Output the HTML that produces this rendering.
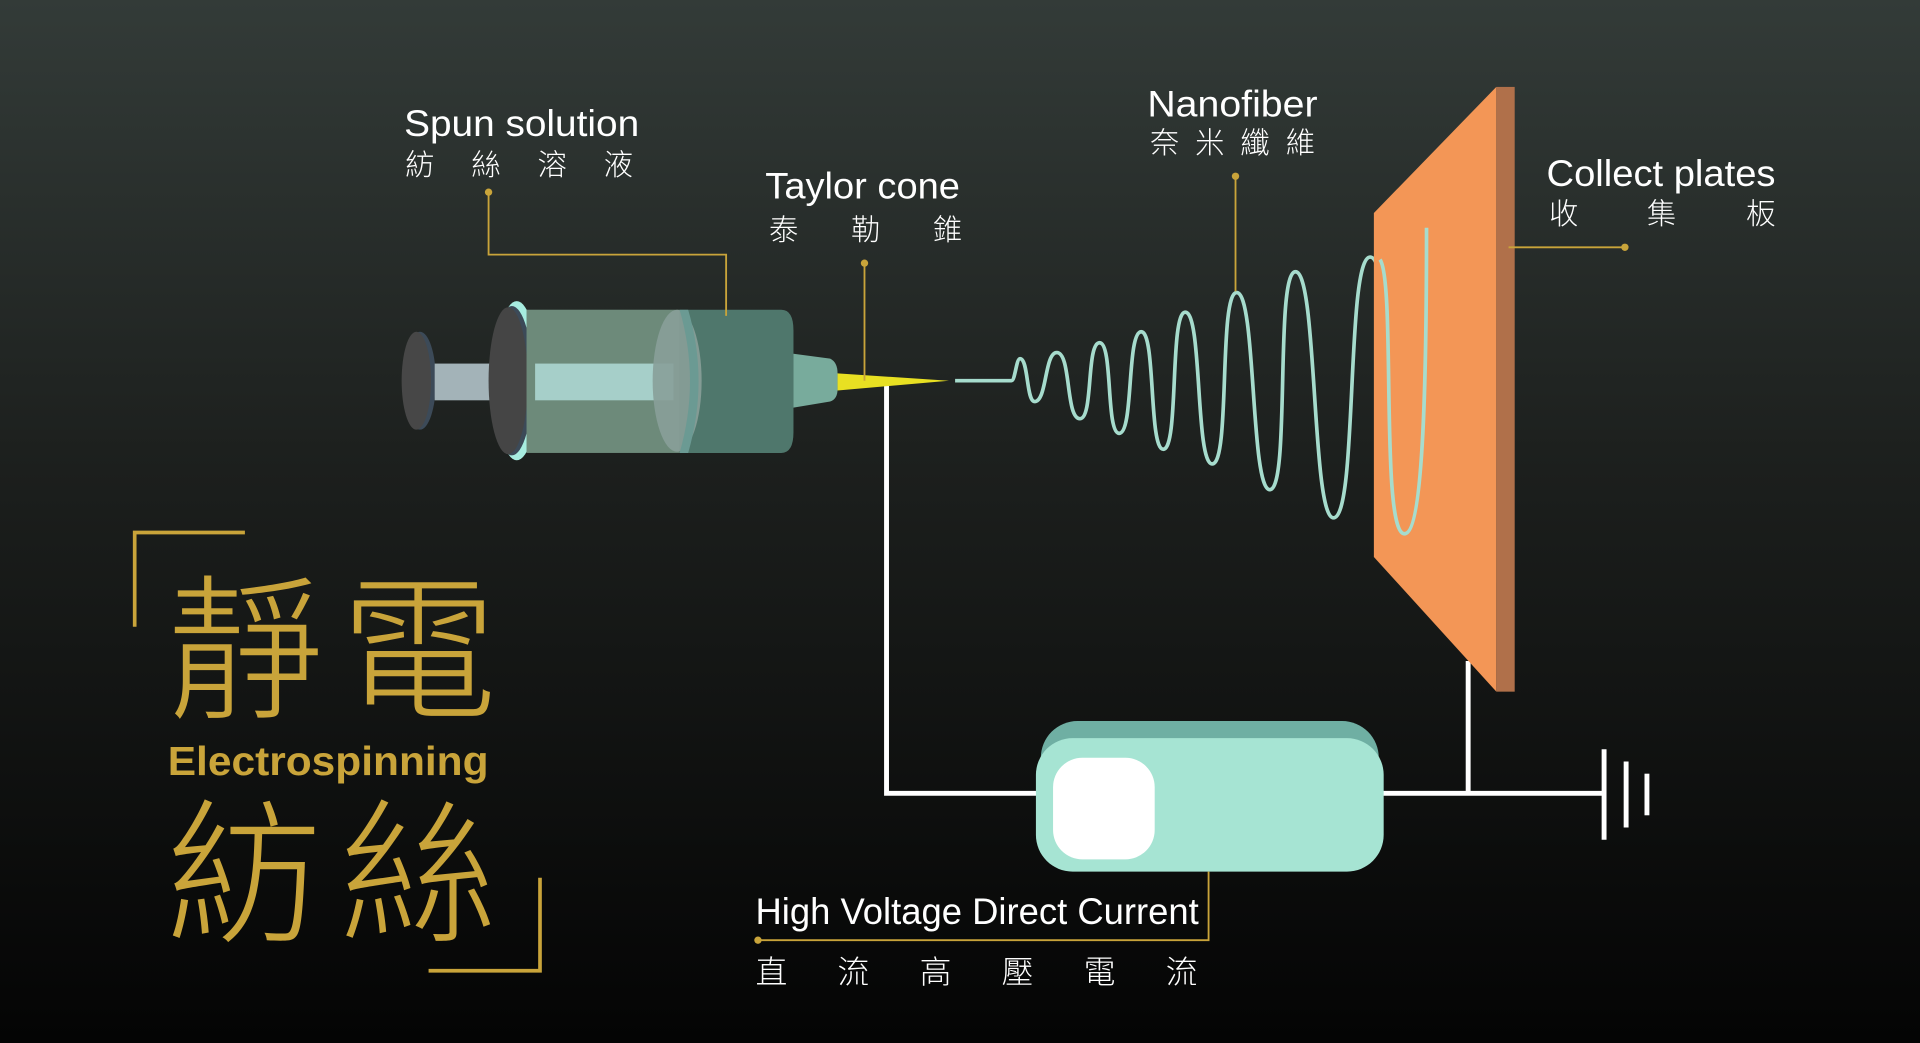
<!DOCTYPE html>
<html><head><meta charset="utf-8"><style>
html,body{margin:0;padding:0;background:#111;}
svg{display:block;}
text{font-family:"Liberation Sans","Noto Sans CJK TC",sans-serif;}
.cjk{font-family:"Noto Sans CJK TC","Noto Sans CJK SC",sans-serif;font-weight:300;}
</style></head><body>
<svg width="1920" height="1043" viewBox="0 0 1568 852" preserveAspectRatio="none" xmlns="http://www.w3.org/2000/svg">
<defs>
<linearGradient id="bg" x1="0" y1="0" x2="0" y2="1">
<stop offset="0" stop-color="#333b38"/><stop offset="0.45" stop-color="#1c1f1d"/><stop offset="1" stop-color="#040404"/>
</linearGradient>
</defs>
<rect width="1568" height="852" fill="url(#bg)"/>

<!-- circuit wires -->
<g stroke="#ffffff" stroke-width="4" fill="none">
<polyline points="724,314 724,648 860,648"/>
<line x1="1120" y1="648" x2="1310" y2="648"/>
<line x1="1199" y1="540" x2="1199" y2="648"/>
<line x1="1310" y1="612" x2="1310" y2="686"/>
<line x1="1328" y1="622" x2="1328" y2="676"/>
<line x1="1345" y1="632" x2="1345" y2="666"/>
</g>

<!-- syringe -->
<ellipse cx="343" cy="311" rx="13" ry="40" fill="#3c4a58"/>
<ellipse cx="340" cy="311" rx="12" ry="40" fill="#474747"/>
<rect x="355" y="297" width="62" height="30" fill="#a3b3b8"/>
<ellipse cx="422" cy="311" rx="18" ry="65" fill="#a7ede0"/>
<ellipse cx="418" cy="311" rx="17" ry="61" fill="#3c4a58"/>
<ellipse cx="415" cy="311" rx="16" ry="60" fill="#454545"/>
<rect x="430" y="253" width="125" height="117" fill="#6d8a7a"/>
<path d="M555,253 L638,253 Q648,253 648,270 L648,353 Q648,370 638,370 L555,370 Z" fill="#4f776c"/>
<rect x="437" y="297" width="113" height="30" fill="#a6cfc9"/>
<ellipse cx="553" cy="311" rx="20" ry="58" fill="#889f99" opacity="0.9"/>
<path d="M555,253 Q572,311 555,370 L562,370 Q579,311 562,253 Z" fill="#6b9a93"/>
<path d="M648,289 L678,293 Q684,296 684,305 L684,318 Q684,326 678,328 L648,333 Z" fill="#78ab9c"/>
<path d="M684,305 L775,311 L684,319 Z" fill="#e8e022"/>

<!-- fiber -->
<path d="M780,311 L826,311 C829,311 830,293 833,293 C840,293 838,328 845,328 C855,328 853,288 863,288 C875,288 870,342 882,342 C893,342 887,280 898,280 C909,280 903,354 914,354 C926,354 920,271 932,271 C944,271 938,367 950,367 C963,367 955,255 968,255 C982,255 976,379 990,379 C1005,379 995,239 1010,239 C1026,239 1021,400 1037,400 C1054,400 1041,222 1058,222 C1076,222 1071,423 1089,423 C1109,423 1099,210 1119,210 C1140,210 1127,436 1147,436 C1163,436 1165,300 1165,186" fill="none" stroke="#a6dccd" stroke-width="3"/>

<!-- collect plate -->
<polygon points="1222,71 1122,174 1122,455 1222,565" fill="#f39656"/>
<rect x="1222" y="71" width="15" height="494" fill="#b0704a"/>
<path d="M1127,212 C1140,230 1127,436 1147,436 C1163,436 1165,300 1165,186" fill="none" stroke="#a6dccd" stroke-width="3"/>

<!-- power box -->
<rect x="850" y="589" width="276" height="90" rx="30" fill="#6fafa3"/>
<rect x="846" y="603" width="284" height="109" rx="30" fill="#a6e4d3"/>
<rect x="860" y="619" width="83" height="83" rx="24" fill="#ffffff"/>

<!-- leaders -->
<g stroke="#c9a43a" stroke-width="1.5" fill="none">
<polyline points="399,157 399,208 593,208 593,258"/>
<line x1="706" y1="215" x2="706" y2="311"/>
<line x1="1009" y1="144" x2="1009" y2="238"/>
<line x1="1232" y1="202" x2="1327" y2="202"/>
<polyline points="987,712 987,768 619,768"/>
</g>
<g fill="#c9a43a">
<circle cx="399" cy="157" r="3"/><circle cx="706" cy="215" r="3"/>
<circle cx="1009" cy="144" r="3"/><circle cx="1327" cy="202" r="3"/>
<circle cx="619" cy="768" r="3"/>
</g>

<!-- labels -->
<g fill="#ffffff">
<text x="330" y="111" font-size="30" textLength="192" lengthAdjust="spacingAndGlyphs">Spun solution</text>
<text class="cjk" font-size="24" y="143"><tspan x="331">紡</tspan><tspan x="385">絲</tspan><tspan x="439">溶</tspan><tspan x="493">液</tspan></text>
<text x="625" y="162" font-size="30" textLength="159" lengthAdjust="spacingAndGlyphs">Taylor cone</text>
<text class="cjk" font-size="24" y="196"><tspan x="628">泰</tspan><tspan x="695">勒</tspan><tspan x="762">錐</tspan></text>
<text x="937" y="95" font-size="30" textLength="139" lengthAdjust="spacingAndGlyphs">Nanofiber</text>
<text class="cjk" font-size="24" y="125"><tspan x="939">奈</tspan><tspan x="976">米</tspan><tspan x="1013">纖</tspan><tspan x="1050">維</tspan></text>
<text x="1263" y="152" font-size="30" textLength="187" lengthAdjust="spacingAndGlyphs">Collect plates</text>
<text class="cjk" font-size="24" y="183"><tspan x="1265">收</tspan><tspan x="1345">集</tspan><tspan x="1426">板</tspan></text>
<text x="617" y="755" font-size="30" textLength="362" lengthAdjust="spacingAndGlyphs">High Voltage Direct Current</text>
<text class="cjk" font-size="26" y="803"><tspan x="617">直</tspan><tspan x="684">流</tspan><tspan x="751">高</tspan><tspan x="818">壓</tspan><tspan x="885">電</tspan><tspan x="952">流</tspan></text>
</g>

<!-- title -->
<g stroke="#c9a43a" stroke-width="3" fill="none">
<polyline points="110,512 110,435 200,435"/>
<polyline points="441,717 441,793 350,793"/>
</g>
<g fill="#c9a43a">
<text class="cjk" font-size="128" y="577"><tspan x="136">靜</tspan><tspan x="278">電</tspan></text>
<text x="137" y="633" font-size="33" font-weight="bold" textLength="262" lengthAdjust="spacingAndGlyphs">Electrospinning</text>
<text class="cjk" font-size="128" y="760"><tspan x="136">紡</tspan><tspan x="278">絲</tspan></text>
</g>
</svg>
</body></html>
